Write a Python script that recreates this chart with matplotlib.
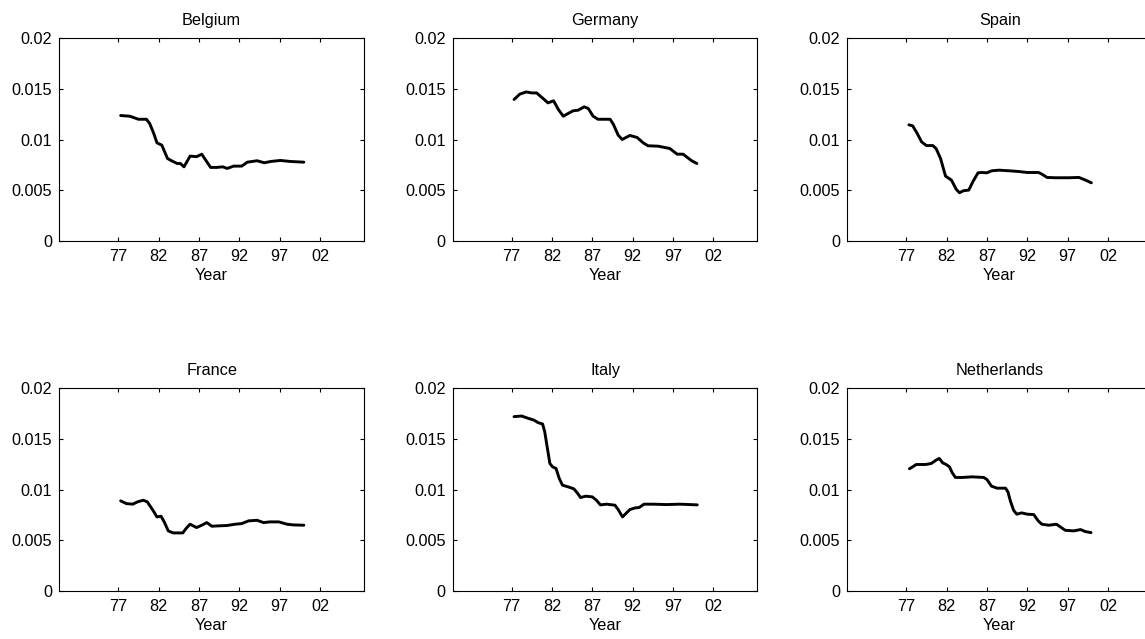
import matplotlib
matplotlib.use("Agg")
import matplotlib.pyplot as plt

plt.rcParams['font.family'] = ['Liberation Sans', 'DejaVu Sans']

countries = ["Belgium", "Germany", "Spain", "France", "Italy", "Netherlands"]

# Year offsets from 1900 and the series values for each country
belgium_t = [77.3, 78.45, 79.5, 80.5, 80.9, 81.4, 81.8, 82.4, 83.1, 83.6, 84.3, 84.7,
             85.15, 85.9, 86.7, 87.35, 87.97, 88.45, 89.2, 89.95, 90.5, 91.3, 92.3,
             93.0, 94.2, 95.1, 95.9, 97.1, 98.3, 100.0]
belgium_v = [0.01237, 0.0123, 0.0120, 0.0120, 0.01158, 0.0106, 0.00967, 0.00944,
             0.00813, 0.0079, 0.00763, 0.00763, 0.0073, 0.00836, 0.0083, 0.00855,
             0.0078, 0.00724, 0.00724, 0.0073, 0.00714, 0.00737, 0.00737, 0.00776,
             0.0079, 0.0077, 0.00783, 0.00793, 0.00783, 0.00776]

germany_t = [77.3, 78.0, 78.8, 79.5, 80.1, 80.9, 81.5, 82.2, 82.8, 83.4, 84.0, 84.6,
             85.25, 86.0, 86.5, 87.1, 87.7, 89.2, 89.6, 90.2, 90.7, 91.65, 92.55,
             93.3, 93.9, 95.15, 96.6, 97.5, 98.25, 99.3, 99.95]
germany_v = [0.01395, 0.01448, 0.0147, 0.0146, 0.0146, 0.01405, 0.01362, 0.01382,
             0.01296, 0.0123, 0.01257, 0.01283, 0.0129, 0.01323, 0.01306, 0.0123,
             0.0120, 0.0120, 0.01151, 0.01043, 0.0100, 0.0104, 0.0102, 0.00967,
             0.00938, 0.00934, 0.00911, 0.00855, 0.00855, 0.0079, 0.00763]

spain_t = [77.33, 77.8, 78.36, 78.9, 79.5, 80.3, 80.7, 81.25, 81.87, 82.6, 83.2, 83.6,
           84.1, 84.75, 85.25, 85.9, 86.4, 87.0, 87.6, 88.5, 89.7, 90.9, 92.0, 93.4,
           93.8, 94.45, 95.5, 97.1, 98.4, 99.2, 99.94]
spain_v = [0.01145, 0.01135, 0.0106, 0.00977, 0.0094, 0.0094, 0.00911, 0.00813,
           0.00638, 0.00599, 0.00507, 0.00474, 0.00494, 0.0050, 0.00582, 0.00671,
           0.00674, 0.00671, 0.00691, 0.00697, 0.00691, 0.00684, 0.00674, 0.00674,
           0.00658, 0.00625, 0.00622, 0.00622, 0.00625, 0.00599, 0.00572]

france_t = [77.3, 78.0, 78.8, 79.4, 80.1, 80.6, 81.3, 81.8, 82.3, 82.7, 83.2, 83.8,
            85.0, 85.4, 85.9, 86.7, 87.35, 87.97, 88.6, 89.2, 90.45, 91.5, 92.3,
            93.15, 94.2, 95.0, 95.8, 96.9, 97.9, 98.7, 100.0]
france_v = [0.00888, 0.00861, 0.00855, 0.00878, 0.00894, 0.00878, 0.00795, 0.00729,
            0.00736, 0.0068, 0.00591, 0.00571, 0.00571, 0.00614, 0.00657, 0.00624,
            0.00647, 0.00673, 0.00637, 0.0064, 0.00644, 0.00657, 0.00663, 0.0069,
            0.00696, 0.00673, 0.0068, 0.0068, 0.00657, 0.0065, 0.00647]

italy_t = [77.3, 78.24, 79.06, 79.76, 80.3, 80.84, 81.1, 81.4, 81.74, 82.07, 82.5,
           82.9, 83.3, 84.0, 84.7, 85.13, 85.54, 86.2, 87.0, 87.5, 88.0, 88.76, 89.8,
           90.2, 90.74, 91.15, 91.65, 92.3, 92.8, 93.4, 94.5, 96.2, 97.8, 99.1, 100.0]
italy_v = [0.0172, 0.01726, 0.01703, 0.01686, 0.0166, 0.01647, 0.01571, 0.01422,
           0.01257, 0.01224, 0.01208, 0.01109, 0.01043, 0.01026, 0.01007, 0.00967,
           0.00921, 0.00934, 0.00927, 0.00894, 0.00848, 0.00855, 0.00845, 0.00802,
           0.00729, 0.00762, 0.00802, 0.00818, 0.00822, 0.00855, 0.00855, 0.00851,
           0.00855, 0.00851, 0.00848]

netherlands_t = [77.4, 77.8, 78.24, 79.4, 80.1, 80.7, 81.1, 81.5, 81.95, 82.36, 82.7,
                 83.1, 83.93, 85.17, 86.6, 87.0, 87.56, 88.26, 89.3, 89.6, 89.9, 90.3,
                 90.7, 91.3, 92.0, 92.8, 93.35, 93.8, 94.66, 95.6, 96.1, 96.7, 97.75,
                 98.6, 99.2, 99.9]
netherlands_v = [0.01205, 0.01224, 0.01247, 0.01247, 0.01257, 0.0129, 0.01307,
                 0.01264, 0.01247, 0.01224, 0.01165, 0.01119, 0.01119, 0.01125,
                 0.01119, 0.01099, 0.01033, 0.01013, 0.01013, 0.00977, 0.00888,
                 0.00795, 0.00756, 0.00769, 0.00756, 0.00752, 0.0069, 0.00657,
                 0.00647, 0.00657, 0.0063, 0.00597, 0.00591, 0.00604, 0.00584,
                 0.00574]

series = [
    (belgium_t, belgium_v), (germany_t, germany_v), (spain_t, spain_v),
    (france_t, france_v), (italy_t, italy_v), (netherlands_t, netherlands_v),
]

xtick_years = [1977, 1982, 1987, 1992, 1997, 2002]
xtick_labels = ["77", "82", "87", "92", "97", "02"]
ytick_values = [0, 0.005, 0.01, 0.015, 0.02]
ytick_labels = ["0", "0.005", "0.01", "0.015", "0.02"]

W, H = 1145, 639
fig = plt.figure(figsize=(W / 100, H / 100), dpi=100)

col_left = [59.3, 452.7, 847.3]
row_top = [38.3, 388.3]
ax_w, ax_h = 304.7, 202.4

for i, (name, (t, v)) in enumerate(zip(countries, series)):
    r, c = divmod(i, 3)
    left = col_left[c] / W
    bottom = 1 - (row_top[r] + ax_h) / H
    ax = fig.add_axes([left, bottom, ax_w / W, ax_h / H])
    years = [1900 + x for x in t]
    ax.plot(years, v, color="black", lw=2.1, solid_joinstyle="round",
            solid_capstyle="round")
    ax.set_xlim(1969.7, 2007.45)
    ax.set_ylim(0, 0.02)
    ax.set_xticks(xtick_years)
    ax.set_xticklabels(xtick_labels)
    ax.set_yticks(ytick_values)
    ax.set_yticklabels(ytick_labels)
    ax.tick_params(direction="in", length=3, width=0.8, top=True, right=True,
                   labelsize=11.7, color="black")
    ax.tick_params(axis="x", pad=6.2)
    ax.tick_params(axis="y", pad=5)
    for sp in ax.spines.values():
        sp.set_linewidth(0.8)
    ax.set_title(name, fontsize=11.7, pad=9.5)
    ax.set_xlabel("Year", fontsize=11.7, labelpad=2.5)

fig.savefig("out.png", dpi=100)
